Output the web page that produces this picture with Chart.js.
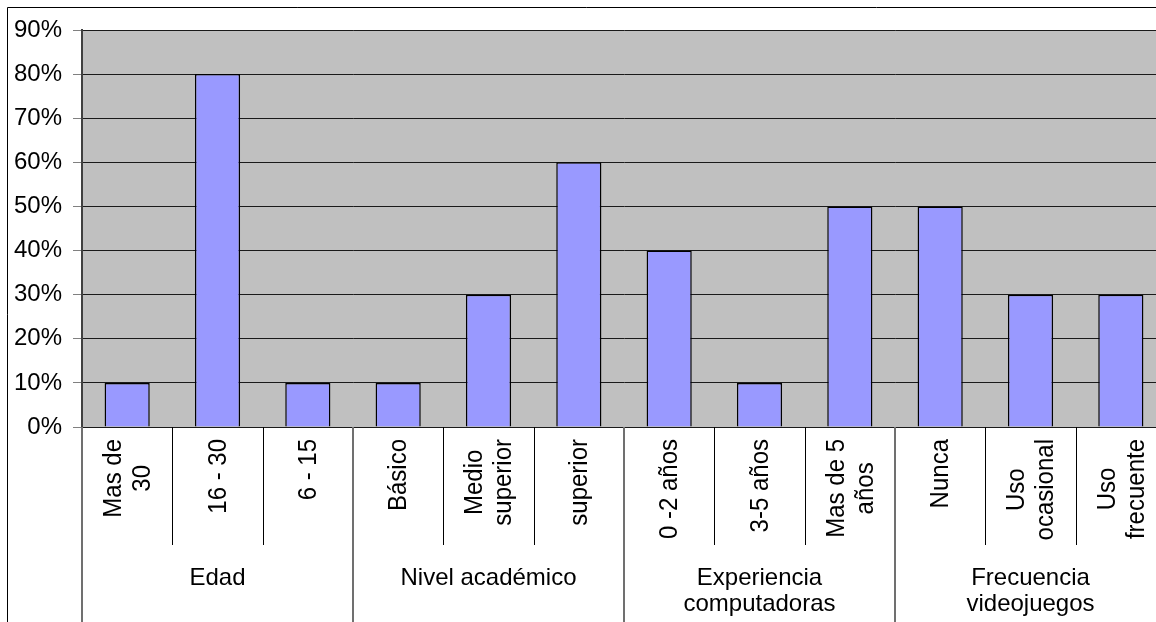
<!DOCTYPE html>
<html>
<head>
<meta charset="utf-8">
<script src="https://cdn.jsdelivr.net/npm/chart.js@4/dist/chart.umd.min.js"></script>
<style>
  html, body { margin: 0; padding: 0; background: #fff; }
  #wrap { width: 1156px; height: 622px; overflow: hidden; position: relative; }
  #c { display: block; }
</style>
</head>
<body>
<div id="wrap"><canvas id="c" width="1166" height="622"></canvas></div>
<script>
const categories = [['Mas de', '30'], '16 - 30', '6 - 15', 'Básico', ['Medio', 'superior'], 'superior',
  '0 -2 años', '3-5 años', ['Mas de 5', 'años'], 'Nunca', ['Uso', 'ocasional'], ['Uso', 'frecuente']];
const values = [10, 80, 10, 10, 30, 60, 40, 10, 50, 50, 30, 30];
const groups = ['Edad', 'Nivel académico', ['Experiencia', 'computadoras'], ['Frecuencia', 'videojuegos']];
const groupSizes = [3, 3, 3, 3];
const yMin = 0, yMax = 90, yStep = 10;

const FONT = '"Liberation Sans", Arial, sans-serif';

const decor = {
  id: 'decor',
  beforeDraw(chart) {
    const { ctx, chartArea: a } = chart;
    ctx.save();
    ctx.fillStyle = '#C0C0C0';
    ctx.fillRect(a.left, a.top, a.right - a.left, a.bottom - a.top);
    ctx.restore();
  },
  afterDraw(chart) {
    const { ctx, chartArea: a } = chart;
    const xs = chart.scales.x;
    const n = categories.length;
    const cw = (a.right - a.left) / n;
    ctx.save();
    // outer frame
    ctx.strokeStyle = '#000';
    ctx.lineWidth = 1;
    ctx.beginPath();
    ctx.moveTo(7.5, chart.height);
    ctx.lineTo(7.5, 7.5);
    ctx.lineTo(chart.width, 7.5);
    ctx.stroke();
    // group boundaries
    const groupEdges = [0];
    groupSizes.forEach(s => groupEdges.push(groupEdges[groupEdges.length - 1] + s));
    // category separators
    ctx.strokeStyle = '#000';
    ctx.lineWidth = 1;
    for (let i = 1; i < n; i++) {
      if (groupEdges.includes(i)) continue;
      const x = Math.round((xs.getPixelForValue(i - 1) + xs.getPixelForValue(i)) / 2) + 0.5;
      ctx.beginPath();
      ctx.moveTo(x, a.bottom);
      ctx.lineTo(x, 545);
      ctx.stroke();
    }
    // group separators (and axis extension)
    ctx.strokeStyle = '#707070';
    ctx.lineWidth = 2;
    groupEdges.forEach(e => {
      if (e >= n) return;
      const x = Math.round(xs.getPixelForValue(e) - cw / 2);
      ctx.beginPath();
      ctx.moveTo(x, a.bottom);
      ctx.lineTo(x, chart.height);
      ctx.stroke();
    });
    // category labels (rotated)
    ctx.fillStyle = '#000';
    ctx.font = '24px ' + FONT;
    ctx.textAlign = 'center';
    ctx.textBaseline = 'middle';
    const lineSp = 29;
    categories.forEach((lab, i) => {
      const lines = Array.isArray(lab) ? lab : [lab];
      const L = Math.max(...lines.map(l => ctx.measureText(l).width));
      const cx = xs.getPixelForValue(i);
      ctx.save();
      ctx.translate(cx, 439 + L / 2);
      ctx.rotate(-Math.PI / 2);
      ctx.scale(1, 1.1);
      lines.forEach((l, j) => {
        ctx.fillText(l, 0, ((j - (lines.length - 1) / 2) * lineSp + 1) / 1.1);
      });
      ctx.restore();
    });
    // group labels
    ctx.textBaseline = 'alphabetic';
    groups.forEach((g, gi) => {
      const lines = Array.isArray(g) ? g : [g];
      const l = xs.getPixelForValue(groupEdges[gi]) - cw / 2;
      const r = xs.getPixelForValue(groupEdges[gi + 1] - 1) + cw / 2;
      const cx = (l + r) / 2;
      lines.forEach((t, j) => ctx.fillText(t, cx, 585 + j * 26));
    });
    ctx.restore();
  }
};

new Chart(document.getElementById('c'), {
  type: 'bar',
  data: {
    labels: categories,
    datasets: [{
      data: values,
      backgroundColor: '#9999FF',
      borderColor: '#000',
      borderWidth: 1.5,
      categoryPercentage: 1,
      barPercentage: 0.5
    }]
  },
  options: {
    responsive: false,
    animation: false,
    events: [],
    layout: { padding: { top: 30, left: 0, right: 0, bottom: 0 } },
    plugins: { legend: { display: false }, tooltip: { enabled: false } },
    scales: {
      x: {
        type: 'category',
        ticks: { display: false },
        grid: { display: false },
        border: { display: false },
        afterFit(scale) { scale.height = 195; }
      },
      y: {
        min: yMin, max: yMax,
        ticks: {
          stepSize: yStep,
          color: '#000',
          padding: 11,
          font: { family: FONT, size: 24 },
          callback: v => v + '%'
        },
        grid: { color: '#1a1a1a', lineWidth: 1, tickColor: '#808080', tickLength: 9 },
        border: { color: '#404040', width: 2 },
        afterFit(scale) { scale.width = 82; }
      }
    }
  },
  plugins: [decor]
});
</script>
</body>
</html>
